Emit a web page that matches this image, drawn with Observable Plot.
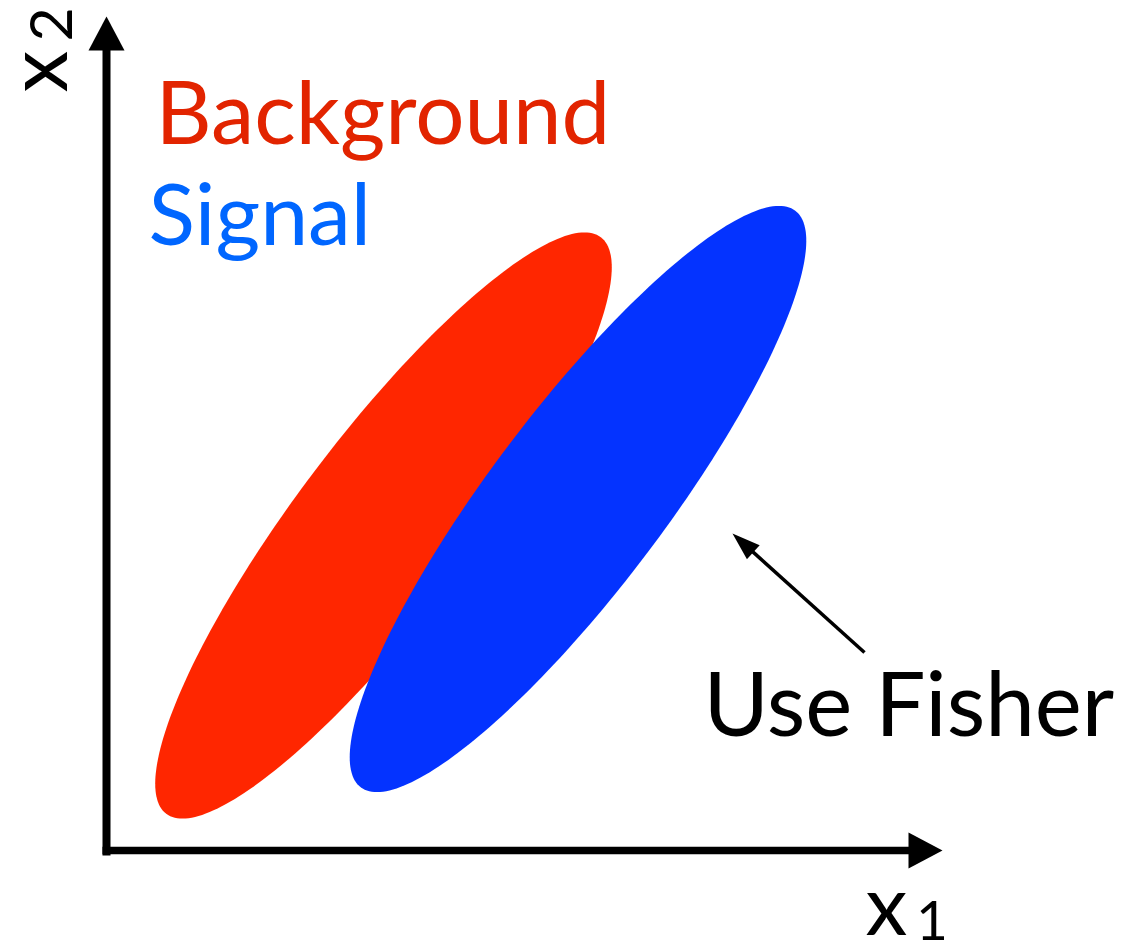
<!DOCTYPE html>
<html>
<head>
<meta charset="utf-8">
<script src="https://cdn.jsdelivr.net/npm/d3@7"></script>
<script src="https://cdn.jsdelivr.net/npm/@observablehq/plot@0.6"></script>
<style>
  html, body { margin: 0; padding: 0; background: #fff; }
  svg { display: block; }
</style>
</head>
<body>
<div id="chart"></div>
<script>
// ---- Data (diagram units; axis corner at origin) ----
const ellipseNames = ["Background", "Signal"];
const ellipseCenterX = [2.77, 4.715];
const ellipseCenterY = [3.25, 3.515];
const ellipseSemiMajor = [3.61, 3.61];
const ellipseSemiMinor = [0.878, 0.878];
const ellipseAngleDeg = [53, 53];
const ellipseColors = ["#FF2600", "#0433FF"];

// arrows: two axes + the "Use Fisher" pointer
const arrowFromX = [0, -0.04, 7.58];
const arrowFromY = [-0.05, 0, 1.98];
const arrowToX = [0, 8.36, 6.26];
const arrowToY = [8.34, 0, 3.17];
const arrowHeadLength = [0.34, 0.34, 0.28];
const arrowHeadHalfWidth = [0.18, 0.18, 0.095];
const arrowStrokeWidth = [8, 7.5, 3.5];

// labels
const labelText = ["Background", "Signal", "Use Fisher"];
const labelX = [0.49, 0.42, 5.97];
const labelY = [7.68, 6.67, 1.78];
const labelColor = ["#E22400", "#0066FF", "#000000"];
const labelFontSize = [87, 86, 89];

// axis titles (main letter + subscript)
const axisTitleMain = ["x", "x"];
const axisTitleSub = ["1", "2"];

// ---- Build geometry tables ----
const ellipsePoints = [];
ellipseNames.forEach((name, i) => {
  const t = ellipseAngleDeg[i] * Math.PI / 180;
  const n = 240;
  for (let k = 0; k < n; k++) {
    const u = 2 * Math.PI * k / n;
    const ex = ellipseSemiMajor[i] * Math.cos(u);
    const ey = ellipseSemiMinor[i] * Math.sin(u);
    ellipsePoints.push({
      name,
      x: ellipseCenterX[i] + ex * Math.cos(t) - ey * Math.sin(t),
      y: ellipseCenterY[i] + ex * Math.sin(t) + ey * Math.cos(t)
    });
  }
});

const shafts = [];
const heads = [];
arrowFromX.forEach((_, i) => {
  const dx = arrowToX[i] - arrowFromX[i], dy = arrowToY[i] - arrowFromY[i];
  const len = Math.hypot(dx, dy);
  const ux = dx / len, uy = dy / len;
  const bx = arrowToX[i] - ux * arrowHeadLength[i];
  const by = arrowToY[i] - uy * arrowHeadLength[i];
  shafts.push({
    id: i,
    x1: arrowFromX[i], y1: arrowFromY[i],
    x2: arrowToX[i] - ux * arrowHeadLength[i] * 0.7,
    y2: arrowToY[i] - uy * arrowHeadLength[i] * 0.7,
    w: arrowStrokeWidth[i]
  });
  const h = arrowHeadHalfWidth[i];
  heads.push({id: i, x: arrowToX[i], y: arrowToY[i]});
  heads.push({id: i, x: bx - uy * h, y: by + ux * h});
  heads.push({id: i, x: bx + uy * h, y: by - ux * h});
});

const labels = labelText.map((t, i) => ({text: t, x: labelX[i], y: labelY[i], color: labelColor[i], size: labelFontSize[i]}));

const marks = [];
ellipseNames.forEach((name, i) => {
  marks.push(Plot.line(ellipsePoints.filter(d => d.name === name), {
    x: "x", y: "y", curve: "linear-closed", fill: ellipseColors[i], stroke: "none"
  }));
});
shafts.forEach(s => {
  marks.push(Plot.link([s], {x1: "x1", y1: "y1", x2: "x2", y2: "y2", stroke: "#000", strokeWidth: s.w, strokeLinecap: "butt"}));
});
arrowFromX.forEach((_, i) => {
  marks.push(Plot.line(heads.filter(d => d.id === i), {x: "x", y: "y", curve: "linear-closed", fill: "#000", stroke: "none"}));
});
labels.forEach(l => {
  marks.push(Plot.text([l], {
    x: "x", y: "y", text: "text", fill: "color", fontSize: l.size,
    textAnchor: "start", lineAnchor: "top"
  }));
});
// x1 axis title
marks.push(Plot.text([axisTitleMain[0]], {x: 7.59, y: -0.25, text: d => d, fontSize: 84, textAnchor: "start", lineAnchor: "top", fill: "#000"}));
marks.push(Plot.text([axisTitleSub[0]], {x: 8.255, y: -0.5, text: d => d, fontSize: 55, textAnchor: "middle", lineAnchor: "top", fill: "#000"}));
// x2 axis title (rotated)
marks.push(Plot.text([axisTitleMain[1]], {x: -0.99, y: 7.58, text: d => d, fontSize: 84, rotate: -90, textAnchor: "start", lineAnchor: "top", fill: "#000"}));
marks.push(Plot.text([axisTitleSub[1]], {x: -0.76, y: 8.09, text: d => d, fontSize: 59, rotate: -90, textAnchor: "start", lineAnchor: "top", fill: "#000"}));

const chart = Plot.plot({
  width: 1124,
  height: 944,
  margin: 0,
  x: {domain: [-1.06, 10.18], axis: null},
  y: {domain: [-0.94, 8.50], axis: null},
  style: {fontFamily: "Lato, 'Open Sans', sans-serif", background: "#fff"},
  marks
});
document.getElementById("chart").appendChild(chart);
</script>
</body>
</html>
